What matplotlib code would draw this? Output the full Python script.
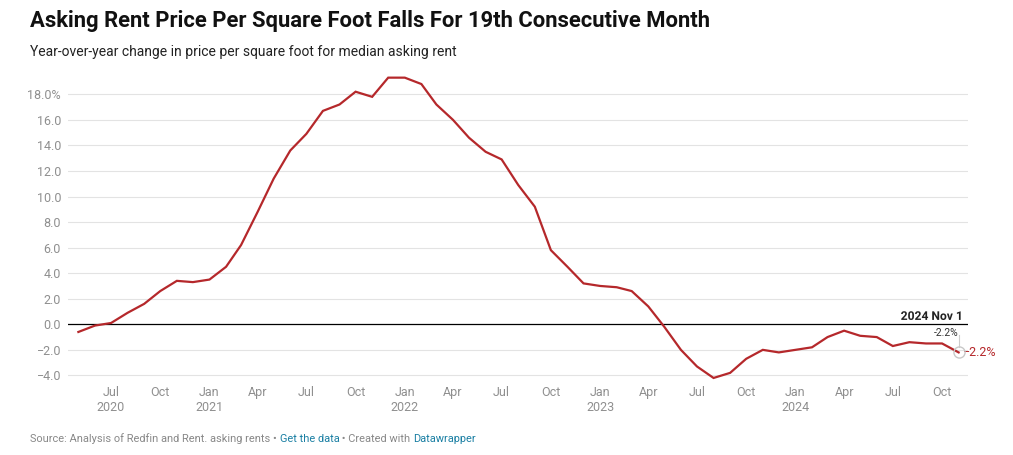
import datetime as dt
import matplotlib
matplotlib.use("Agg")
import matplotlib.pyplot as plt
import matplotlib.dates as mdates
import matplotlib.patheffects as pe

plt.rcParams['font.family'] = ['Roboto', 'DejaVu Sans']

# monthly year-over-year change (%), May 2020 .. Nov 2024
start_year, start_month = 2020, 5
yoy_change = [
    -0.6, -0.1, 0.1, 0.9, 1.6, 2.6, 3.4, 3.3,                     # 2020
    3.5, 4.5, 6.2, 8.8, 11.4, 13.6, 14.9, 16.7, 17.2, 18.2, 17.8, 19.3,  # 2021
    19.3, 18.8, 17.2, 16.0, 14.6, 13.5, 12.9, 10.9, 9.2, 5.8, 4.5, 3.2,  # 2022
    3.0, 2.9, 2.6, 1.4, -0.2, -2.0, -3.3, -4.2, -3.8, -2.7, -2.0, -2.2,  # 2023
    -2.0, -1.8, -1.0, -0.5, -0.9, -1.0, -1.7, -1.4, -1.5, -1.5, -2.2,    # 2024
]
y_ticks = [-4, -2, 0, 2, 4, 6, 8, 10, 12, 14, 16, 18]
x_tick_months = [(2020, 7), (2020, 10), (2021, 1), (2021, 4), (2021, 7), (2021, 10),
                 (2022, 1), (2022, 4), (2022, 7), (2022, 10), (2023, 1), (2023, 4),
                 (2023, 7), (2023, 10), (2024, 1), (2024, 4), (2024, 7), (2024, 10)]
month_names = {1: 'Jan', 4: 'Apr', 7: 'Jul', 10: 'Oct'}

dates = []
y, m = start_year, start_month
for _ in yoy_change:
    dates.append(dt.date(y, m, 1))
    m += 1
    if m > 12:
        m, y = 1, y + 1

RED = '#b5282b'
GRAY = '#8f8f8f'

fig = plt.figure(figsize=(10.13, 4.55), dpi=100)
ax = fig.add_axes([68 / 1013, 1 - 381.8 / 455, 900 / 1013, (381.8 - 75.1) / 455])

ax.plot(dates, yoy_change, color=RED, lw=1.6, solid_joinstyle='miter', zorder=3)
ax.axhline(0, color='black', lw=0.9, zorder=2)

ax.set_ylim(-4.5, 19.5)
ax.set_yticks(y_ticks)
ax.set_yticklabels([('18.0%' if v == 18 else f'{v:.1f}'.replace('-', '\u2212')) for v in y_ticks])
for v in y_ticks:
    if v != 0:
        ax.axhline(v, color='#e3e3e3', lw=0.8, zorder=1)

x0 = mdates.date2num(dt.date(2020, 5, 1))
ax.set_xlim(x0 - 19.4, mdates.date2num(dt.date(2024, 11, 1)) + 17.5)
ticks = [dt.date(yy, mm, 1) for yy, mm in x_tick_months]
ax.set_xticks(ticks)
ax.set_xticklabels([month_names[mm] + (f'\n{yy}' if mm == 1 or (yy, mm) == (2020, 7) else '')
                    for yy, mm in x_tick_months])
ax.tick_params(axis='both', length=0, colors=GRAY, labelsize=9)
ax.tick_params(axis='y', pad=5)
ax.tick_params(axis='x', pad=3)
for s in ax.spines.values():
    s.set_visible(False)

# annotation at last point
last_d, last_v = dates[-1], yoy_change[-1]
ax.plot([last_d, last_d], [last_v + 0.4, -0.85], color='#cccccc', lw=0.8, zorder=3)
ax.plot([last_d], [last_v], marker='o', ms=8, mfc='none', mec='#c8c8c8', mew=1, zorder=4)
ax.annotate(f'{last_v:.1f}%'.replace('-', '\u2212'), (last_d, last_v), xytext=(3, 0),
            textcoords='offset points', color=RED, fontsize=9, va='center', ha='left')
ax.annotate('2024 Nov 1', (last_d, 0), xytext=(3, 1), textcoords='offset points',
            ha='right', va='bottom', fontsize=8.7, fontweight='bold', color='#222222',
            path_effects=[pe.withStroke(linewidth=3, foreground='white')], zorder=5)
ax.annotate(f'{last_v:.1f}%', (last_d, 0), xytext=(0, -6), textcoords='offset points',
            ha='right', va='center', fontsize=7.5, color='#333333', zorder=5)

fig.text(30 / 1013, 1 - 21 / 455, 'Asking Rent Price Per Square Foot Falls For 19th Consecutive Month',
         fontsize=15.8, fontweight='bold', color='#111111', va='center')
fig.text(30 / 1013, 1 - 52 / 455, 'Year-over-year change in price per square foot for median asking rent',
         fontsize=10, color='#222222', va='center')

# source line with coloured links
parts = [('Source: Analysis of Redfin and Rent. asking rents \u2022 ', '#888888'),
         ('Get the data', '#1a7fa3'),
         (' \u2022 Created with ', '#888888'),
         ('Datawrapper', '#1a7fa3')]
renderer = fig.canvas.get_renderer()
xpos = 30 / 1013
for txt, col in parts:
    t = fig.text(xpos, 1 - 439 / 455, txt, fontsize=7.9, color=col, va='center')
    bb = t.get_window_extent(renderer)
    xpos += bb.width / fig.bbox.width

fig.savefig('out.png', dpi=100)
